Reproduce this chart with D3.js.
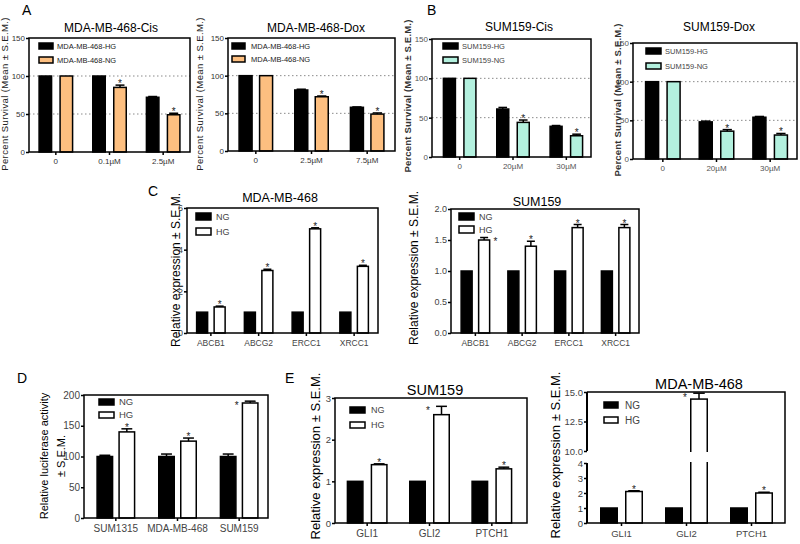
<!DOCTYPE html>
<html><head><meta charset="utf-8">
<script src="https://cdn.jsdelivr.net/npm/d3@7"></script>
<style>body{margin:0;background:#fff}svg{display:block;font-family:"Liberation Sans",Arial,sans-serif}</style>
</head><body><svg id="c" width="800" height="544"></svg>
<script>
// ---------- DATA ----------
// Panel A (survival, MDA-MB-468)
const doseA1 = ["0", "0.1µM", "2.5µM"];
const hgA1 = [100, 100, 72];   const hgErrA1 = [0, 0, 1];
const ngA1 = [100, 85, 49];    const ngErrA1 = [0, 3, 2];
const sigA1 = [false, true, true];
const doseA2 = ["0", "2.5µM", "7.5µM"];
const hgA2 = [100, 81, 58];    const hgErrA2 = [0, 1, 0.5];
const ngA2 = [100, 72, 49];    const ngErrA2 = [0, 1, 1.5];
const sigA2 = [false, true, true];
// Panel B (survival, SUM159)
const doseB = ["0", "20µM", "30µM"];
const hgB1 = [100, 61, 39];    const hgErrB1 = [0, 2, 1];
const ngB1 = [100, 44, 27];    const ngErrB1 = [0, 3, 2];
const hgB2 = [100, 48, 54];    const hgErrB2 = [0, 1, 1];
const ngB2 = [100, 36, 31];    const ngErrB2 = [0, 2, 2];
const sigB = [false, true, true];
const survTicks = [0, 50, 100, 150];
const survGrid = [50, 100];
// Panel C (drug-resistance genes)
const genesC = ["ABCB1", "ABCG2", "ERCC1", "XRCC1"];
const ngC1 = [1, 1, 1, 1];     const hgC1 = [1.25, 3.0, 5.0, 3.2];  const hgErrC1 = [0.04, 0.06, 0.05, 0.05];
const ngC2 = [1, 1, 1, 1];     const hgC2 = [1.5, 1.4, 1.7, 1.7];   const hgErrC2 = [0.04, 0.08, 0.05, 0.05];
const sigC = [true, true, true, true];
const starSideC1 = ["top", "top", "top", "top"];
const starSideC2 = ["right", "top", "top", "top"];
const ticksC1 = [0, 2, 4, 6];
const ticksC2 = [0, 0.5, 1.0, 1.5, 2.0];
// Panel D (luciferase)
const linesD = ["SUM1315", "MDA-MB-468", "SUM159"];
const ngD = [100, 100, 100];   const ngErrD = [2, 4, 4];
const hgD = [140, 125, 187];   const hgErrD = [5, 5, 3];
const sigD = [true, true, true];
const starSideD = ["top", "top", "left"];
const ticksD = [0, 50, 100, 150, 200];
// Panel E (Hedgehog genes)
const genesE = ["GLI1", "GLI2", "PTCH1"];
const ngE1 = [1, 1, 1];        const hgE1 = [1.4, 2.6, 1.3];   const hgErrE1 = [0.02, 0.2, 0.04];
const ngE2 = [1, 1, 1];        const hgE2 = [2.1, 14.4, 2.0];  const hgErrE2 = [0.05, 0.5, 0.05];
const sigE = [true, true, true];
const starSideE = ["top", "left", "top"];
const ticksE1 = [0, 1, 2, 3];
const ticksE2low = [0, 1, 2, 3, 4];
const ticksE2high = [10.0, 12.5, 15.0];

// ---------- STYLE ----------
const ORANGE = "#fdbf80", MINT = "#b3f0de", BLACK = "#000", WHITE = "#fff";
const svg = d3.select("#c");

function text(g, s, x, y, size, o = {}) {
  return g.append("text").attr("x", x).attr("y", y).attr("font-size", size)
    .attr("fill", o.color || "#000").attr("text-anchor", o.anchor || "start")
    .attr("font-weight", o.weight || "normal").text(s);
}
function ylabel(g, lines, x, y, size, o = {}) {
  lines.forEach((s, i) => {
    g.append("text").attr("transform", `translate(${x + i * (o.lh || 0)},${y}) rotate(-90)`)
      .attr("text-anchor", "middle").attr("font-size", size).attr("fill", o.color || "#000")
      .attr("letter-spacing", o.ls || 0)
      .attr("font-weight", o.weight || "normal").text(s);
  });
}
function legend(g, o) {
  o.items.forEach((it, i) => {
    const yy = o.y + i * o.dy;
    g.append("rect").attr("x", o.x).attr("y", yy).attr("width", o.w).attr("height", o.h)
      .attr("fill", it.fill).attr("stroke", "#000").attr("stroke-width", 1.5);
    text(g, it.label, o.tx, yy + o.h / 2 + o.size * 0.36, o.size, { color: o.color || "#222" });
  });
}

function drawBars(g, x, yFn, base, o) {
  const n = o.series.length;
  const sub = d3.scaleBand().domain(d3.range(n))
    .range([-(o.barW + o.gap / 2), o.barW + o.gap / 2]).paddingInner(o.gap / (o.barW + o.gap));
  o.series.forEach((s, si) => {
    const left = d => x(d) + x.bandwidth() / 2 + sub(si);
    const cx = d => left(d) + sub.bandwidth() / 2;
    g.selectAll(null).data(o.cats).enter().append("rect")
      .attr("x", d => left(d) + 0.75)
      .attr("width", sub.bandwidth() - 1.5)
      .attr("y", (d, i) => yFn(s.vals[i]))
      .attr("height", (d, i) => base - yFn(s.vals[i]))
      .attr("fill", s.fill).attr("stroke", "#000").attr("stroke-width", 1.5);
    o.cats.forEach((d, i) => {
      const e = s.errs ? s.errs[i] : 0;
      const c = cx(d);
      if (e > 0) {
        const y0 = yFn(s.vals[i]), y1 = yFn(s.vals[i] + e), cw = sub.bandwidth() * 0.32;
        g.append("line").attr("x1", c).attr("x2", c).attr("y1", y0).attr("y2", y1).attr("stroke", "#000").attr("stroke-width", 1.5);
        g.append("line").attr("x1", c - cw).attr("x2", c + cw).attr("y1", y1).attr("y2", y1).attr("stroke", "#000").attr("stroke-width", 1.5);
      }
      if (s.sig && s.sig[i]) {
        const side = s.starSide ? s.starSide[i] : "top";
        const top = yFn(s.vals[i] + (e || 0));
        const fs = o.starSize || 10;
        if (side === "top") text(g, "*", c, top + 2, fs, { anchor: "middle", color: "#222" });
        else if (side === "left") text(g, "*", left(d) - 5, top + 8, fs, { anchor: "middle", color: "#222" });
        else text(g, "*", left(d) + sub.bandwidth() + 5, top + 7, fs, { anchor: "middle", color: "#222" });
      }
    });
  });
}

function drawPanel(o) {
  const g = svg.append("g");
  const [fx0, fy0, fx1, fy1] = o.frame;
  const x = d3.scaleBand().domain(o.cats).range(o.xr);
  const y = d3.scaleLinear().domain(o.yDomain).range([fy1, fy0]);
  (o.grid || []).forEach(v => g.append("line").attr("x1", fx0).attr("x2", fx1)
    .attr("y1", y(v)).attr("y2", y(v)).attr("stroke", "#8a8a8a").attr("stroke-width", 1).attr("stroke-dasharray", "1.5,2.5"));
  drawBars(g, x, y, fy1, o);
  g.append("rect").attr("x", fx0).attr("y", fy0).attr("width", fx1 - fx0).attr("height", fy1 - fy0)
    .attr("fill", "none").attr("stroke", "#000").attr("stroke-width", o.frameW || 1.5);
  const ya = g.append("g").attr("transform", `translate(${fx0},0)`)
    .call(d3.axisLeft(y).tickValues(o.yTicks).tickSize(3).tickPadding(1).tickFormat(o.fmt || d3.format("d")));
  ya.select(".domain").remove();
  ya.selectAll("line").attr("stroke-width", 1.5);
  ya.selectAll("text").attr("font-size", o.yFont).attr("fill", o.tickColor || "#333").attr("font-family", null);
  const xa = g.append("g").attr("transform", `translate(0,${fy1})`)
    .call(d3.axisBottom(x).tickSize(3).tickPadding(o.xPad || 3));
  xa.select(".domain").remove();
  xa.selectAll("line").attr("stroke-width", 1.5);
  xa.selectAll("text").attr("font-size", o.xFont).attr("fill", o.tickColor || "#333").attr("font-family", null);
  if (o.title) text(g, o.title[0], o.title[1], o.title[2], o.title[3], { anchor: "middle" });
  if (o.legend) legend(g, o.legend);
  if (o.ylab) ylabel(g, o.ylab.lines, o.ylab.x, o.ylab.y, o.ylab.size, o.ylab);
  return g;
}

// ---------- PANEL LETTERS ----------
const lg = svg.append("g");
[["A", 22, 15], ["B", 427, 15], ["C", 148, 196], ["D", 17, 383], ["E", 285, 383]]
  .forEach(d => text(lg, d[0], d[1], d[2], 14));

const survLabel = "Percent Survival (Mean ± S.E.M.)";

// ---------- A ----------
drawPanel({
  frame: [29, 38, 190, 152], xr: [29, 190], cats: doseA1, yDomain: [0, 150], yTicks: survTicks, grid: survGrid,
  series: [{ vals: hgA1, errs: hgErrA1, fill: BLACK }, { vals: ngA1, errs: ngErrA1, fill: ORANGE, sig: sigA1 }],
  barW: 14, gap: 7, yFont: 8, xFont: 8, title: ["MDA-MB-468-Cis", 111, 32, 12],
  legend: { x: 39, y: 43, w: 14, h: 6, dy: 14, tx: 57, size: 7.5, items: [{ label: "MDA-MB-468-HG", fill: BLACK }, { label: "MDA-MB-468-NG", fill: ORANGE }] },
  ylab: { lines: [survLabel], x: 8, y: 94, size: 9.5, ls: 0.4, color: "#222" }
});
drawPanel({
  frame: [228, 38, 395, 151], xr: [228, 395], cats: doseA2, yDomain: [0, 150], yTicks: survTicks, grid: survGrid,
  series: [{ vals: hgA2, errs: hgErrA2, fill: BLACK }, { vals: ngA2, errs: ngErrA2, fill: ORANGE, sig: sigA2 }],
  barW: 14.5, gap: 6, yFont: 8, xFont: 8, title: ["MDA-MB-468-Dox", 316, 32, 12],
  legend: { x: 232, y: 43, w: 13, h: 6, dy: 13, tx: 251, size: 7.5, items: [{ label: "MDA-MB-468-HG", fill: BLACK }, { label: "MDA-MB-468-NG", fill: ORANGE }] },
  ylab: { lines: [survLabel], x: 203, y: 94, size: 9.5, ls: 0.4, color: "#222" }
});
// ---------- B ----------
drawPanel({
  frame: [432, 39, 591, 157], xr: [433, 593], cats: doseB, yDomain: [0, 150], yTicks: survTicks, grid: survGrid,
  series: [{ vals: hgB1, errs: hgErrB1, fill: BLACK }, { vals: ngB1, errs: ngErrB1, fill: MINT, sig: sigB }],
  barW: 13.5, gap: 7, yFont: 8, xFont: 8, tickColor: "#555", title: ["SUM159-Cis", 519, 31, 12],
  legend: { x: 443, y: 43, w: 15, h: 6, dy: 14, tx: 462, size: 7.5, color: "#444", items: [{ label: "SUM159-HG", fill: BLACK }, { label: "SUM159-NG", fill: MINT }] },
  ylab: { lines: [survLabel], x: 411, y: 96, size: 9.5, ls: 0.2, weight: "bold", color: "#333" }
});
drawPanel({
  frame: [633, 43, 797, 159], xr: [636, 797], cats: doseB, yDomain: [0, 150], yTicks: survTicks, grid: survGrid,
  series: [{ vals: hgB2, errs: hgErrB2, fill: BLACK }, { vals: ngB2, errs: ngErrB2, fill: MINT, sig: sigB }],
  barW: 14.5, gap: 7, yFont: 8, xFont: 8, tickColor: "#555", title: ["SUM159-Dox", 719, 31, 12],
  legend: { x: 646, y: 48, w: 15, h: 6, dy: 15, tx: 665, size: 7.5, color: "#444", items: [{ label: "SUM159-HG", fill: BLACK }, { label: "SUM159-NG", fill: MINT }] },
  ylab: { lines: [survLabel], x: 621, y: 100, size: 9.5, ls: 0.2, weight: "bold", color: "#333" }
});
// ---------- C ----------
drawPanel({
  frame: [187, 208, 378, 333], xr: [187, 378], cats: genesC, yDomain: [0, 6], yTicks: ticksC1,
  series: [{ vals: ngC1, fill: BLACK }, { vals: hgC1, errs: hgErrC1, fill: WHITE, sig: sigC, starSide: starSideC1 }],
  barW: 12.5, gap: 5, yFont: 9, xFont: 8.5, xPad: 4, tickColor: "#444", title: ["MDA-MB-468", 280, 202, 12.5],
  legend: { x: 196, y: 213, w: 15, h: 7, dy: 15, tx: 216, size: 9, color: "#444", items: [{ label: "NG", fill: BLACK }, { label: "HG", fill: WHITE }] },
  ylab: { lines: ["Relative expression ± S.E.M."], x: 180, y: 270, size: 12 }
});
drawPanel({
  frame: [451, 209, 639, 333], xr: [452, 639], cats: genesC, yDomain: [0, 2], yTicks: ticksC2, fmt: d3.format(".1f"),
  series: [{ vals: ngC2, fill: BLACK }, { vals: hgC2, errs: hgErrC2, fill: WHITE, sig: sigC, starSide: starSideC2 }],
  barW: 12.5, gap: 5, yFont: 9, xFont: 8.5, xPad: 4, tickColor: "#444", title: ["SUM159", 537, 206, 12.5],
  legend: { x: 459, y: 213, w: 15, h: 7, dy: 13, tx: 479, size: 9, color: "#444", items: [{ label: "NG", fill: BLACK }, { label: "HG", fill: WHITE }] },
  ylab: { lines: ["Relative expression ± S.E.M."], x: 418, y: 268, size: 12 }
});
// ---------- D ----------
drawPanel({
  frame: [84, 395, 268, 518], xr: [85, 270], cats: linesD, yDomain: [0, 200], yTicks: ticksD,
  series: [{ vals: ngD, errs: ngErrD, fill: BLACK }, { vals: hgD, errs: hgErrD, fill: WHITE, sig: sigD, starSide: starSideD }],
  barW: 17, gap: 5, yFont: 10, xFont: 10, xPad: 4, tickColor: "#444",
  legend: { x: 99, y: 399, w: 15, h: 6, dy: 13, tx: 119, size: 9.5, color: "#444", items: [{ label: "NG", fill: BLACK }, { label: "HG", fill: WHITE }] },
  ylab: { lines: ["Relative luciferase activity", "± S.E.M."], x: 48, y: 456, size: 11, lh: 17 }
});
// ---------- E ----------
drawPanel({
  frame: [335, 398, 527, 523], xr: [336, 523], cats: genesE, yDomain: [0, 3], yTicks: ticksE1,
  series: [{ vals: ngE1, fill: BLACK }, { vals: hgE1, errs: hgErrE1, fill: WHITE, sig: sigE, starSide: starSideE }],
  barW: 17, gap: 7, yFont: 9.5, xFont: 10, xPad: 4, tickColor: "#444", title: ["SUM159", 435, 395, 14.5],
  legend: { x: 350, y: 407, w: 15, h: 6, dy: 15, tx: 371, size: 9, color: "#444", items: [{ label: "NG", fill: BLACK }, { label: "HG", fill: WHITE }] },
  ylab: { lines: ["Relative expression ± S.E.M."], x: 320, y: 456, size: 13 }
});

// E2 with broken y axis
(function () {
  const g = svg.append("g");
  const fx0 = 587, fy0 = 392, fx1 = 785, fy1 = 523;
  const x = d3.scaleBand().domain(genesE).range([589, 784]);
  const yLow = d3.scaleLinear().domain([0, 4]).range([fy1, 463]);
  const yHigh = d3.scaleLinear().domain([10, 15]).range([451, fy0]);
  const yFn = v => v <= 4 ? yLow(v) : yHigh(v);
  drawBars(g, x, yFn, fy1, {
    cats: genesE, barW: 18, gap: 7,
    series: [{ vals: ngE2, fill: BLACK }, { vals: hgE2, errs: hgErrE2, fill: WHITE, sig: sigE, starSide: starSideE }]
  });
  g.append("rect").attr("x", fx0 + 1).attr("y", 452).attr("width", fx1 - fx0 - 3).attr("height", 10).attr("fill", "#fff");
  g.append("path").attr("d", `M${fx0},${fy0}H${fx1}V${fy1}H${fx0}`).attr("fill", "none").attr("stroke", "#000").attr("stroke-width", 1.5);
  [[yLow, ticksE2low, d3.format("d")], [yHigh, ticksE2high, d3.format(".1f")]].forEach(([sc, tv, f]) => {
    const a = g.append("g").attr("transform", `translate(${fx0},0)`)
      .call(d3.axisLeft(sc).tickValues(tv).tickSize(3).tickPadding(1).tickFormat(f));
    a.select(".domain").remove();
    a.selectAll("line").attr("stroke-width", 1.5);
    a.selectAll("text").attr("font-size", 9.5).attr("fill", "#444").attr("font-family", null);
    g.append("line").attr("x1", fx0).attr("x2", fx0).attr("y1", sc.range()[0]).attr("y2", sc.range()[1]).attr("stroke", "#000").attr("stroke-width", 2);
  });
  const xa = g.append("g").attr("transform", `translate(0,${fy1})`).call(d3.axisBottom(x).tickSize(3).tickPadding(4));
  xa.select(".domain").remove();
  xa.selectAll("line").attr("stroke-width", 1.5);
  xa.selectAll("text").attr("font-size", 9.5).attr("fill", "#444").attr("font-family", null);
  text(g, "MDA-MB-468", 699, 389, 14.5, { anchor: "middle" });
  legend(g, { x: 604, y: 402, w: 14, h: 6, dy: 15, tx: 625, size: 10, color: "#444", items: [{ label: "NG", fill: BLACK }, { label: "HG", fill: WHITE }] });
  ylabel(g, ["Relative expression ± S.E.M."], 560, 455, 13);
})();
</script></body></html>
